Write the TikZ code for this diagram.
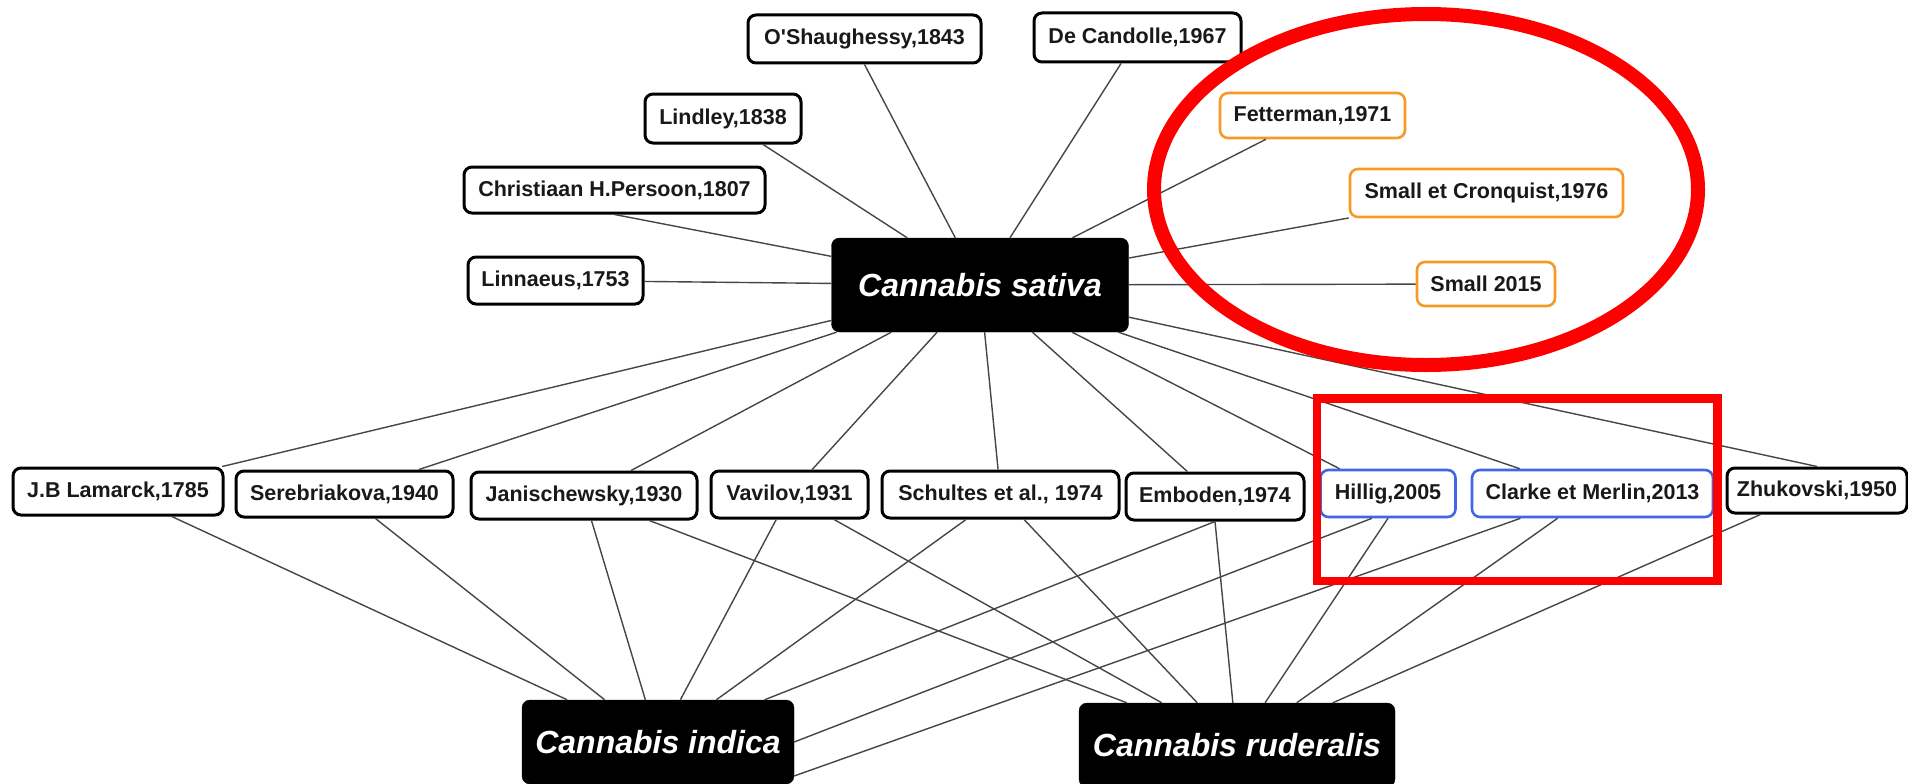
\documentclass[tikz,border=0pt]{standalone}
\usepackage{fontspec}
\setmainfont{Liberation Sans}
\definecolor{orangeedge}{RGB}{246,153,38}
\definecolor{blueedge}{RGB}{66,103,230}
\definecolor{linkgray}{RGB}{70,70,70}
\definecolor{hired}{RGB}{255,0,0}
\begin{document}
\begin{tikzpicture}[x=1pt,y=-1pt,
  ref/.style={draw=black, line width=3pt, rounded corners=8pt, fill=white,
    inner sep=0pt, align=center, text=black!90,
    font=\fontsize{21.5}{24}\selectfont\bfseries},
  refo/.style={ref, draw=orangeedge, line width=2.6pt},
  refb/.style={ref, draw=blueedge, line width=2.6pt},
  species/.style={fill=black, draw=black, rounded corners=8pt, inner sep=0pt,
    text=white, font=\fontsize{32}{36}\selectfont\bfseries\itshape},
  link/.style={draw=linkgray, line width=1.4pt},
  mark1/.style={draw=hired, line width=14pt},
  mark2/.style={draw=hired, line width=8.5pt}]
\useasboundingbox (0,0) rectangle (1908,784);
% species
\node[species, minimum width=297pt, minimum height=94pt] (sat) at (980,285) {Cannabis sativa};
\node[species, minimum width=272pt, minimum height=84pt] (ind) at (658,742) {Cannabis indica};
\node[species, minimum width=316pt, minimum height=84pt] (rud) at (1237,745) {Cannabis ruderalis};
% top references
\node[ref, minimum width=233pt, minimum height=48pt] (osh) at (864.5,39) {O\textquotesingle Shaughessy,1843};
\node[ref, minimum width=207pt, minimum height=49pt] (dec) at (1137.5,37.5) {De Candolle,1967};
\node[ref, minimum width=156pt, minimum height=49pt] (lind) at (723,118.5) {Lindley,1838};
\node[ref, minimum width=301pt, minimum height=46pt] (pers) at (614.5,190) {Christiaan H.Persoon,1807};
\node[ref, minimum width=175pt, minimum height=47pt] (linn) at (555.5,280.5) {Linnaeus,1753};
\node[refo, minimum width=185pt, minimum height=45pt] (fett) at (1312.5,115.5) {Fetterman,1971};
\node[refo, minimum width=273pt, minimum height=48pt] (sc) at (1486.5,193) {Small et Cronquist,1976};
\node[refo, minimum width=138pt, minimum height=44pt] (s15) at (1486,284) {Small 2015};
% middle row
\node[ref, minimum width=210pt, minimum height=47pt] (lam) at (118,491.5) {J.B Lamarck,1785};
\node[ref, minimum width=217pt, minimum height=46pt] (ser) at (344.5,494) {Serebriakova,1940};
\node[ref, minimum width=226pt, minimum height=47pt] (jan) at (584,495.5) {Janischewsky,1930};
\node[ref, minimum width=157pt, minimum height=47pt] (vav) at (789.5,494.5) {Vavilov,1931};
\node[ref, minimum width=237pt, minimum height=47pt] (sch) at (1000.5,494.5) {Schultes et al., 1974};
\node[ref, minimum width=178pt, minimum height=47pt] (emb) at (1215,496.5) {Emboden,1974};
\node[refb, minimum width=135pt, minimum height=47pt] (hil) at (1388,493.5) {Hillig,2005};
\node[refb, minimum width=241pt, minimum height=47pt] (cla) at (1592.5,493.5) {Clarke et Merlin,2013};
\node[ref, minimum width=180pt, minimum height=45pt] (zhu) at (1817,490.5) {Zhukovski,1950};
% links to sativa
\draw[link] (osh.south) -- (sat);
\draw[link] (pers.south) -- (sat);
\foreach \n in {dec,lind,linn,fett,sc,s15,lam,ser,jan,vav,sch,emb,hil,cla}
  \draw[link] (sat) -- (\n);
\draw[link] (sat) -- (zhu.north);
% links to indica
\foreach \n in {lam,ser,jan,vav,sch}
  \draw[link] (ind) -- (\n);
\draw[link] (emb.south) -- (ind);
\draw[link] (hil.237) -- (ind.east);
\draw[link] (cla.199.4) -- (ind.-14.8);
% links to ruderalis
\foreach \n in {jan,vav,sch,cla}
  \draw[link] (rud) -- (\n);
\draw[link] (emb.south) -- (rud);
\draw[link] (hil.south) -- (rud);
\draw[link] (zhu.203) -- (rud);
% highlight marks
\draw[mark1] (1426,189.5) ellipse [x radius=272pt, y radius=175.5pt];
\draw[mark2] (1317,398.5) rectangle (1717.5,581);
\end{tikzpicture}
\end{document}
